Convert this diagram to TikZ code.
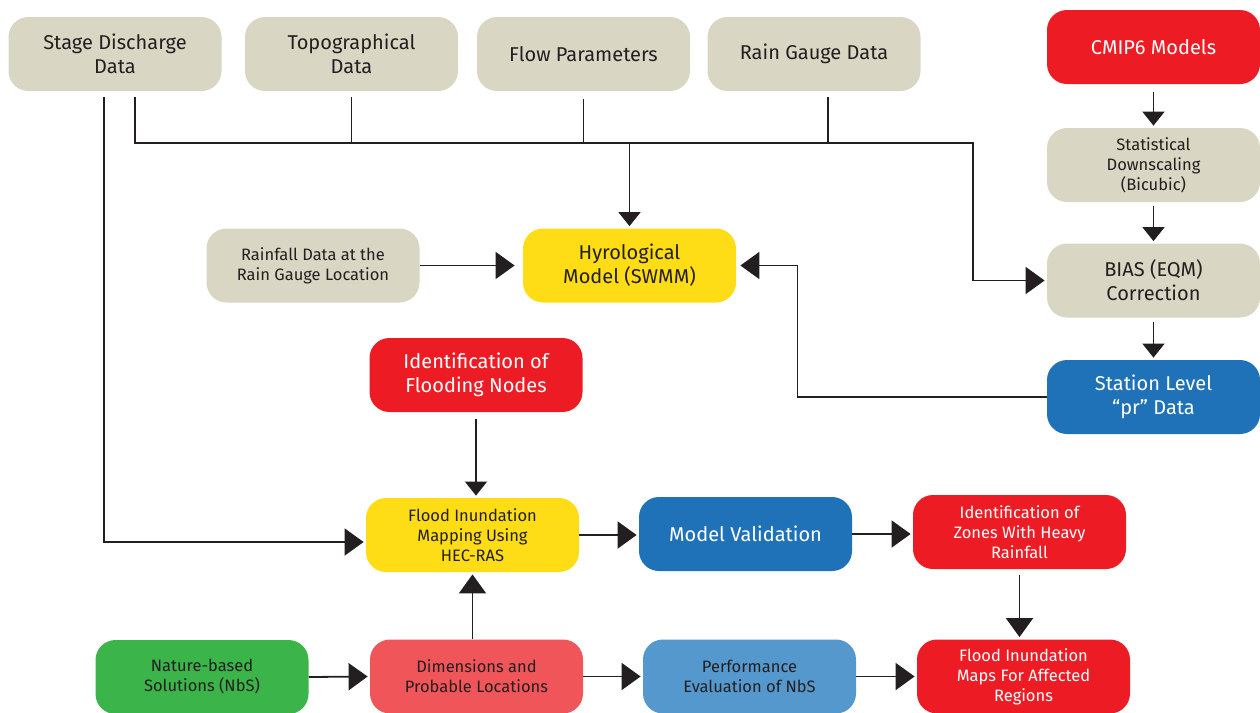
\documentclass[tikz,border=0pt]{standalone}
\usepackage{fontspec}
\setmainfont{Fira Sans}
\usetikzlibrary{shapes,arrows.meta,positioning,calc}

\definecolor{beige}{HTML}{D9D6C3}
\definecolor{fred}{HTML}{ED1C24}
\definecolor{fyellow}{HTML}{FEDD17}
\definecolor{fblue}{HTML}{1F72B8}
\definecolor{fgreen}{HTML}{3BB54A}
\definecolor{fsalmon}{HTML}{F0555A}
\definecolor{lblue}{HTML}{5598CD}
\definecolor{ink}{HTML}{231F20}

\begin{document}
\begin{tikzpicture}[x=0.5pt,y=-0.5pt,
  box/.style={rectangle, rounded corners=10pt, minimum width=106.5pt, minimum height=37pt, align=center, text=ink, inner sep=2pt},
  big/.style={font=\fontsize{10}{12}\selectfont},
  small/.style={font=\fontsize{8.25}{10}\selectfont},
  line/.style={draw=ink, line width=0.9pt},
  arr/.style={line, -{Triangle[length=9.5pt,width=13.5pt]}, shorten >=1pt},
  arrs/.style={line, -{Triangle[length=7pt,width=11pt]}, shorten >=1pt}]
\useasboundingbox (0,0) rectangle (1260,713);

% input data
\node[box, big, fill=beige] (sd) at (115,54) {Stage Discharge\\Data};
\node[box, big, fill=beige] (topo) at (351.5,54) {Topographical\\Data};
\node[box, big, fill=beige] (flow) at (583.5,54) {Flow Parameters};
\node[box, big, fill=beige] (gauge) at (814,54) {Rain Gauge Data};

% climate chain
\node[box, big, fill=fred, text=white] (cmip) at (1153.5,47) {CMIP6 Models};
\node[box, small, fill=beige] (stat) at (1153.5,165) {Statistical\\Downscaling\\(Bicubic)};
\node[box, big, fill=beige] (bias) at (1153.5,280.5) {BIAS (EQM)\\Correction};
\node[box, big, fill=fblue, text=white] (station) at (1153.5,397) {Station Level\\“pr” Data};

% hydrology
\node[box, small, fill=beige] (rain) at (313,265.5) {Rainfall Data at the\\Rain Gauge Location};
\node[box, big, fill=fyellow] (hyd) at (629.5,265.5) {Hyrological\\Model (SWMM)};
\node[box, big, fill=fred, text=white] (ifn) at (476,375) {Identification of\\Flooding Nodes};

% mapping row
\node[box, small, fill=fyellow] (fim) at (472.5,535) {Flood Inundation\\Mapping Using\\HEC-RAS};
\node[box, big, fill=fblue, text=white] (mv) at (745.5,534) {Model Validation};
\node[box, small, fill=fred, text=white] (izh) at (1019.5,532) {Identification of\\Zones With Heavy\\Rainfall};

% NbS row
\node[box, small, fill=fgreen] (nbs) at (202,677) {Nature-based\\Solutions (NbS)};
\node[box, small, fill=fsalmon] (dim) at (476.5,676.5) {Dimensions and\\Probable Locations};
\node[box, small, fill=lblue] (perf) at (749.5,676.5) {Performance\\Evaluation of NbS};
\node[box, small, fill=fred, text=white] (maps) at (1023.5,676.5) {Flood Inundation\\Maps For Affected\\Regions};

% data bus
\coordinate (busR) at (973,143);
\draw[arr] ($(sd.south)+(-11,6)$) |- ($(fim.west)+(0,7)$);
\draw[arr] ($(sd.south)+(20,6)$) |- (busR) |- (bias.west);
\draw[line] ($(topo.south)+(0,6)$) |- (busR);
\draw[line] ($(flow.south)+(0,8)$) |- (busR);
\draw[line] ($(gauge.south)+(14,6)$) |- (busR);
\draw[arrs] (hyd.north |- busR) -- (hyd.north);

% climate arrows
\draw[arrs, shorten <=4pt] (cmip.south) -- (stat.north);
\draw[arrs, shorten <=2pt] (stat.south) -- (bias.north);
\draw[arrs, shorten <=2pt] (bias.south) -- (station.north);
\draw[arr, shorten >=2pt] (station.west) -| ($(hyd.east)+(61,0)$) -- (hyd.east);
\draw[arr, shorten >=4pt] (rain.east) -- (hyd.west);

% flood mapping
\draw[arrs, shorten <=3.5pt] (ifn.south) -- (ifn.south |- fim.north);
\draw[arr] (fim.east) -- (fim.east -| mv.west);
\draw[arr] (mv.east) -- (mv.east -| izh.west);
\draw[arr, shorten <=3pt] (izh.south) -- (izh.south |- maps.north);
\draw[arr] (nbs.east) -- (dim.west);
\draw[arr] (fim.south |- dim.north) -- (fim.south);
\draw[arr] (dim.east) -- (perf.west);
\draw[arr] (perf.east) -- (maps.west);
\end{tikzpicture}
\end{document}
